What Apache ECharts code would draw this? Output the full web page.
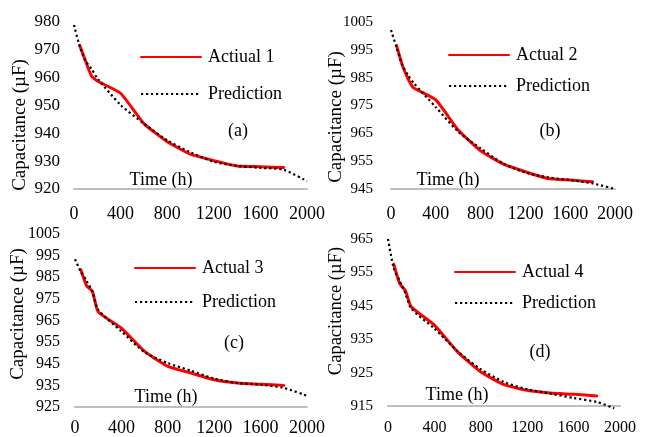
<!DOCTYPE html>
<html>
<head>
<meta charset="utf-8">
<script src="https://cdn.jsdelivr.net/npm/echarts@6/dist/echarts.min.js"></script>
<style>
  html, body { margin: 0; padding: 0; background: #fff; }
  #chart { width: 651px; height: 437px; }
</style>
</head>
<body>
<div id="chart"></div>
<script>
// Sampling times (hours) for measured and predicted capacitance
const hours = [50, 100, 150, 200, 400, 600, 800, 1000, 1200, 1400, 1600, 1800];
const predHours = [0, 50, 100, 150, 200, 400, 600, 800, 1000, 1200, 1400, 1600, 1800, 2000];
const predHoursD = [0, 50, 100, 150, 200, 400, 600, 800, 1000, 1200, 1400, 1600, 1800, 1950];

// Capacitor 1
const actual1 = [971.5, 965.9, 960.6, 958.8, 954.4, 943.5, 937.0, 932.5, 930.2, 928.3, 928.0, 927.7];
const pred1 = [978.9, 971.1, 965.9, 963.2, 959.8, 950.2, 943.5, 937.5, 933.2, 929.8, 928.3, 927.6, 926.9, 922.8];
// Capacitor 2
const actual2 = [996.5, 989.6, 984.8, 981.4, 977.0, 966.2, 958.7, 954.0, 951.2, 948.8, 948.2, 947.6];
const pred2 = [1002.1, 995.8, 989.6, 986.0, 983.2, 974.4, 965.6, 959.6, 954.2, 950.9, 949.2, 948.2, 947.0, 945.0];
// Capacitor 3
const actual3 = [988.5, 981.1, 978.5, 969.0, 961.5, 950.7, 943.8, 940.7, 937.6, 936.1, 935.5, 935.0];
const pred3 = [993.3, 987.6, 983.3, 978.3, 970.0, 960.0, 950.4, 945.3, 941.8, 938.1, 936.1, 935.3, 933.8, 930.2];
// Capacitor 4
const actual4 = [957.4, 951.7, 949.5, 944.7, 939.2, 931.2, 925.2, 921.4, 919.7, 918.9, 918.5, 918.0];
const pred4 = [965.0, 956.2, 952.5, 948.7, 944.2, 938.2, 931.4, 926.0, 922.2, 920.0, 918.7, 917.4, 916.2, 914.3];

// Tick labels
const xTicks = [0, 400, 800, 1200, 1600, 2000];
const yTicks1 = [920, 930, 940, 950, 960, 970, 980];
const yTicks2 = [945, 955, 965, 975, 985, 995, 1005];
const yTicks3 = [925, 935, 945, 955, 965, 975, 985, 995, 1005];
const yTicks4 = [915, 925, 935, 945, 955, 965];

const actualNames = ['Actiual 1', 'Actual 2', 'Actual 3', 'Actual 4'];
const predName = 'Prediction';
const panelTags = ['(a)', '(b)', '(c)', '(d)'];
const xTitle = 'Time (h)';
const yTitle = 'Capacitance (\u00b5F)';

const FONT = '"Liberation Serif", "Times New Roman", serif';
const RED = '#ff0000';
const DOT = '#000000';

const zip = (xs, ys) => xs.map((x, i) => [x, ys[i]]);
const plain = v => String(v);

// Layout of the four panels
const panels = [
  { grid: { left: 74, top: 22, width: 233, height: 167 }, yTicks: yTicks1, act: actual1, pred: pred1, ph: predHours,
    yFont: 17, yMargin: 14, xFont: 18, xMargin: 16,
    legend: { left: 140, top: 48, gap: 19 }, tag: [238, 131], time: [161, 180], ytitle: [20, 125], ytSize: 19 },
  { grid: { left: 391, top: 22, width: 224, height: 167 }, yTicks: yTicks2, act: actual2, pred: pred2, ph: predHours,
    yFont: 15, yMargin: 18, xFont: 18, xMargin: 16,
    legend: { left: 448, top: 46, gap: 13 }, tag: [550, 131], time: [448, 180], ytitle: [336, 117], ytSize: 19 },
  { grid: { left: 75, top: 234, width: 232, height: 173 }, yTicks: yTicks3, act: actual3, pred: pred3, ph: predHours,
    yFont: 16, yMargin: 15, xFont: 18, xMargin: 12,
    legend: { left: 134, top: 259, gap: 16 }, tag: [234, 343], time: [166, 397], ytitle: [18, 314], ytSize: 19 },
  { grid: { left: 388, top: 239, width: 232, height: 167 }, yTicks: yTicks4, act: actual4, pred: pred4, ph: predHoursD,
    yFont: 15, yMargin: 15, xFont: 16, xMargin: 14,
    legend: { left: 454, top: 263, gap: 13 }, tag: [540, 352], time: [457, 395], ytitle: [336, 311], ytSize: 18.5 }
];

const grids = [], xAxes = [], yAxes = [], series = [], legends = [], graphics = [];

panels.forEach((p, i) => {
  grids.push(Object.assign({ containLabel: false }, p.grid));
  xAxes.push({
    type: 'value', gridIndex: i, min: 0, max: 2000,
    axisLine: { show: true, onZero: false, lineStyle: { color: '#bfbfbf', width: 2 } },
    axisTick: { show: false },
    splitLine: { show: false },
    axisLabel: { customValues: xTicks, formatter: plain, color: '#000', fontFamily: FONT, fontSize: p.xFont, margin: p.xMargin }
  });
  yAxes.push({
    type: 'value', gridIndex: i, min: p.yTicks[0], max: p.yTicks[p.yTicks.length - 1],
    axisLine: { show: false },
    axisTick: { show: false },
    splitLine: { show: false },
    axisLabel: { customValues: p.yTicks, formatter: plain, color: '#000', fontFamily: FONT, fontSize: p.yFont, margin: p.yMargin }
  });
  series.push({
    name: actualNames[i], type: 'line', xAxisIndex: i, yAxisIndex: i,
    data: zip(hours, p.act), symbol: 'none', smooth: 0.15, clip: false,
    lineStyle: { color: RED, width: 3, join: 'round', cap: 'round' },
    itemStyle: { color: RED }, z: 3
  });
  series.push({
    name: predName, type: 'line', xAxisIndex: i, yAxisIndex: i,
    data: zip(p.ph, p.pred), symbol: 'none', smooth: 0.25, clip: false,
    lineStyle: { color: DOT, width: 2.2, type: [2.2, 2.8] },
    itemStyle: { color: DOT }, z: 4
  });
  legends.push({
    orient: 'vertical', left: p.legend.left, top: p.legend.top, itemGap: p.legend.gap,
    itemWidth: 60, itemHeight: 18, selectedMode: false, padding: 0,
    data: [actualNames[i], predName],
    itemStyle: { color: 'rgba(0,0,0,0)', borderColor: 'rgba(0,0,0,0)', borderWidth: 0 },
    textStyle: { fontFamily: FONT, fontSize: 18, color: '#000', padding: [0, 0, 0, 2] }
  });
  graphics.push({
    type: 'text', x: p.tag[0], y: p.tag[1],
    style: { text: panelTags[i], font: '18px ' + FONT, fill: '#000', textAlign: 'center', textVerticalAlign: 'middle' }
  });
  graphics.push({
    type: 'text', x: p.time[0], y: p.time[1],
    style: { text: xTitle, font: '18px ' + FONT, fill: '#000', textAlign: 'center', textVerticalAlign: 'middle' }
  });
  graphics.push({
    type: 'text', x: p.ytitle[0], y: p.ytitle[1], rotation: Math.PI / 2,
    style: { text: yTitle, font: p.ytSize + 'px ' + FONT, fill: '#000', textAlign: 'center', textVerticalAlign: 'middle' }
  });
});

const chart = echarts.init(document.getElementById('chart'), null, { renderer: 'canvas' });
chart.setOption({
  backgroundColor: '#fff',
  animation: false,
  grid: grids,
  xAxis: xAxes,
  yAxis: yAxes,
  legend: legends,
  series: series,
  graphic: graphics
});
</script>
</body>
</html>
